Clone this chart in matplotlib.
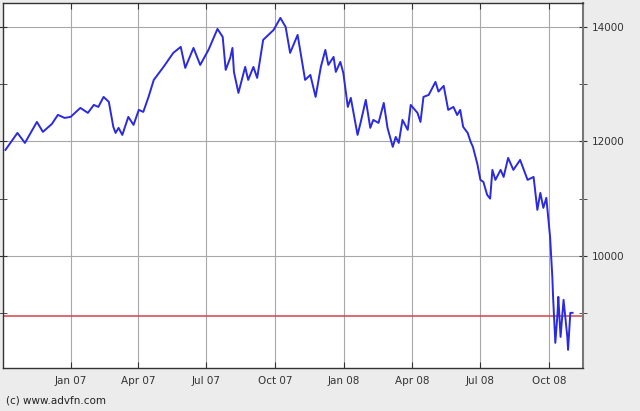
import matplotlib
matplotlib.use("Agg")
import matplotlib.pyplot as plt
import numpy as np
import pandas as pd

# index closes
dates = [
    "2006-10-06", "2006-10-22", "2006-11-01", "2006-11-17", "2006-11-25",
    "2006-12-07", "2006-12-15", "2006-12-24", "2007-01-01", "2007-01-14",
    "2007-01-24", "2007-02-01", "2007-02-07", "2007-02-14", "2007-02-21",
    "2007-02-27", "2007-03-02", "2007-03-06", "2007-03-11", "2007-03-19",
    "2007-03-26", "2007-04-02", "2007-04-08", "2007-04-15", "2007-04-22",
    "2007-05-05", "2007-05-18", "2007-05-28", "2007-06-03", "2007-06-14",
    "2007-06-23", "2007-07-04", "2007-07-16", "2007-07-23", "2007-07-27",
    "2007-08-02", "2007-08-05", "2007-08-07", "2007-08-13", "2007-08-22",
    "2007-08-26", "2007-09-02", "2007-09-07", "2007-09-15", "2007-09-29",
    "2007-10-08", "2007-10-15", "2007-10-21", "2007-10-31", "2007-11-10",
    "2007-11-17", "2007-11-24", "2007-12-01", "2007-12-07", "2007-12-11",
    "2007-12-18", "2007-12-21", "2007-12-27", "2007-12-31", "2008-01-06",
    "2008-01-10", "2008-01-19", "2008-01-23", "2008-01-30", "2008-02-05",
    "2008-02-09", "2008-02-16", "2008-02-23", "2008-02-28", "2008-03-06",
    "2008-03-10", "2008-03-14", "2008-03-19", "2008-03-26", "2008-03-30",
    "2008-04-08", "2008-04-12", "2008-04-16", "2008-04-23", "2008-05-02",
    "2008-05-06", "2008-05-13", "2008-05-19", "2008-05-26", "2008-05-31",
    "2008-06-04", "2008-06-08", "2008-06-14", "2008-06-18", "2008-06-21",
    "2008-06-27", "2008-07-01", "2008-07-05", "2008-07-10", "2008-07-14",
    "2008-07-17", "2008-07-21", "2008-07-28", "2008-08-01", "2008-08-07",
    "2008-08-14", "2008-08-23", "2008-09-02", "2008-09-10", "2008-09-15",
    "2008-09-19", "2008-09-23", "2008-09-27", "2008-10-02", "2008-10-05",
    "2008-10-06", "2008-10-09", "2008-10-12", "2008-10-13", "2008-10-16",
    "2008-10-20", "2008-10-25", "2008-10-26", "2008-10-29", "2008-11-01",
]
closes = [
    11851, 12148, 11973, 12340, 12166,
    12305, 12463, 12410, 12428, 12585,
    12498, 12637, 12602, 12777, 12690,
    12253, 12148, 12236, 12113, 12428,
    12288, 12550, 12515, 12777, 13074,
    13301, 13546, 13651, 13284, 13633,
    13336, 13598, 13965, 13825, 13249,
    13458, 13633, 13214, 12847, 13301,
    13074, 13301, 13109, 13773, 13948,
    14157, 14000, 13546, 13860, 13074,
    13161, 12777, 13301, 13598, 13336,
    13476, 13214, 13389, 13196, 12602,
    12760, 12113, 12323, 12725, 12236,
    12375, 12323, 12672, 12236, 11904,
    12078, 11973, 12375, 12201, 12637,
    12498, 12340, 12777, 12812, 13039,
    12870, 12970, 12550, 12602, 12460,
    12550, 12253, 12148, 11991, 11904,
    11600, 11327, 11292, 11065, 11000,
    11502, 11327, 11502, 11379, 11711,
    11502, 11676, 11327, 11379, 10803,
    11100, 10838, 11013, 10331, 9632,
    9283, 8480, 9004, 9283, 8584,
    9231, 8584, 8357, 9004, 9004,
]
ref_level = 8950
tick_dates = ["2007-01-01", "2007-04-01", "2007-07-01", "2007-10-01",
              "2008-01-01", "2008-04-01", "2008-07-01", "2008-10-01"]
tick_labels = ["Jan 07", "Apr 07", "Jul 07", "Oct 07",
               "Jan 08", "Apr 08", "Jul 08", "Oct 08"]

x = pd.to_datetime(dates)
xt = pd.to_datetime(tick_dates)

fig = plt.figure(figsize=(6.4, 4.11), dpi=100, facecolor="#ececec")
ax = fig.add_axes([0.005, 0.105, 0.906, 0.888])
ax.set_facecolor("white")

ax.plot(x, closes, color="#2a2ae0", lw=1.4, zorder=3)
ax.axhline(ref_level, color="#d8404a", lw=1.1, zorder=2)

ax.set_xlim(pd.Timestamp("2006-10-03"), pd.Timestamp("2008-11-15"))
ax.set_ylim(8043, 14420)

ax.set_xticks(xt)
ax.set_xticklabels(tick_labels)
ax.set_yticks([10000, 12000, 14000])
ax.set_yticks([9000, 11000, 13000], minor=True)
ax.yaxis.tick_right()
ax.grid(True, which="major", color="#a8a8a8", lw=0.8)

ax.tick_params(axis="x", direction="in", length=4, top=True, labelsize=7.5,
               colors="#333333", pad=6)
ax.tick_params(axis="y", which="both", direction="inout", length=6, left=True,
               right=True, labelsize=7.5, colors="#333333", pad=3)
for s in ax.spines.values():
    s.set_color("#333333")
    s.set_linewidth(1.0)
ax.spines["right"].set_color("#777777")
ax.spines["right"].set_linewidth(1.5)

fig.text(0.01, 0.018, "(c) www.advfn.com", fontsize=7.5, color="#222222")

fig.savefig("out.png", dpi=100, facecolor=fig.get_facecolor())
